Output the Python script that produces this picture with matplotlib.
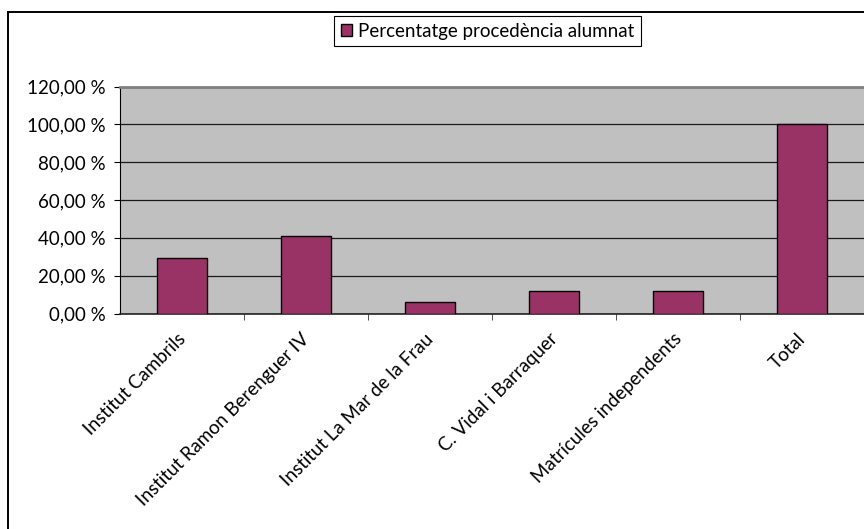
import matplotlib
matplotlib.use("Agg")
import matplotlib.pyplot as plt
from matplotlib.lines import Line2D
from matplotlib.ticker import FuncFormatter, FixedLocator
from matplotlib.transforms import ScaledTranslation

# dades del gràfic
categories = ["Institut Cambrils", "Institut Ramon Berenguer IV", "Institut La Mar de la Frau",
              "C. Vidal i Barraquer", "Matrícules independents", "Total"]
values = [29.41, 41.18, 5.88, 11.76, 11.76, 100.0]
series_name = "Percentatge procedència alumnat"
yticks = [0, 20, 40, 60, 80, 100, 120]

plt.rcParams["font.family"] = ["Lato", "DejaVu Sans"]

W, H = 864, 529
fig = plt.figure(figsize=(W / 100, H / 100), dpi=100)

# marc exterior
fig.add_artist(Line2D([7.5 / W, 7.5 / W], [0, 1 - 11.5 / H], transform=fig.transFigure, color="black", lw=1.4))
fig.add_artist(Line2D([7.5 / W, 1], [1 - 11.5 / H, 1 - 11.5 / H], transform=fig.transFigure, color="black", lw=1.4))

ax = fig.add_axes([120 / W, 1 - 313.5 / H, (W - 120) / W, (313.5 - 86.5) / H])
ax.set_facecolor("#c0c0c0")

x = list(range(len(categories)))
bars = ax.bar(x, values, width=0.41, color="#993366", edgecolor="black", linewidth=1.0,
              label=series_name, zorder=3)

ax.set_xlim(-0.5, len(categories) - 0.5)
ax.set_ylim(0, 120)
ax.set_yticks(yticks)
ax.yaxis.set_major_formatter(FuncFormatter(lambda v, p: f"{v:.2f} %".replace(".", ",")))
ax.yaxis.grid(True, color="#1a1a1a", lw=0.9, zorder=1)
ax.set_axisbelow(True)

# marques entre categories
ax.xaxis.set_major_locator(FixedLocator(x))
ax.xaxis.set_minor_locator(FixedLocator([i + 0.5 for i in range(len(categories) - 1)]))
ax.tick_params(axis="x", which="major", length=0, pad=12)
ax.tick_params(axis="x", which="minor", length=4.3, direction="out", color="#333333")
ax.tick_params(axis="y", length=4.3, direction="out", labelsize=13.5, pad=6)
ax.set_xticklabels(categories, rotation=45, ha="right", va="top", rotation_mode="anchor", fontsize=13.5)
off = ScaledTranslation(-5 / 100, 0, fig.dpi_scale_trans)
for lab in ax.get_xticklabels():
    lab.set_transform(lab.get_transform() + off)

ax.spines["top"].set_color("#808080")
ax.spines["top"].set_linewidth(2)
ax.spines["right"].set_visible(False)
ax.spines["left"].set_color("black")
ax.spines["bottom"].set_color("#222222")
ax.spines["bottom"].set_linewidth(1.2)

leg = fig.legend(handles=[bars], labels=[series_name], loc="upper left",
                 bbox_to_anchor=(334 / W, 1 - 16 / H), fontsize=13.5, fancybox=False,
                 edgecolor="black", framealpha=1, handlelength=0.6, handleheight=0.6,
                 handletextpad=0.35, borderpad=0.35, borderaxespad=0)
leg.get_frame().set_linewidth(0.8)

fig.savefig("out.png", dpi=100)
